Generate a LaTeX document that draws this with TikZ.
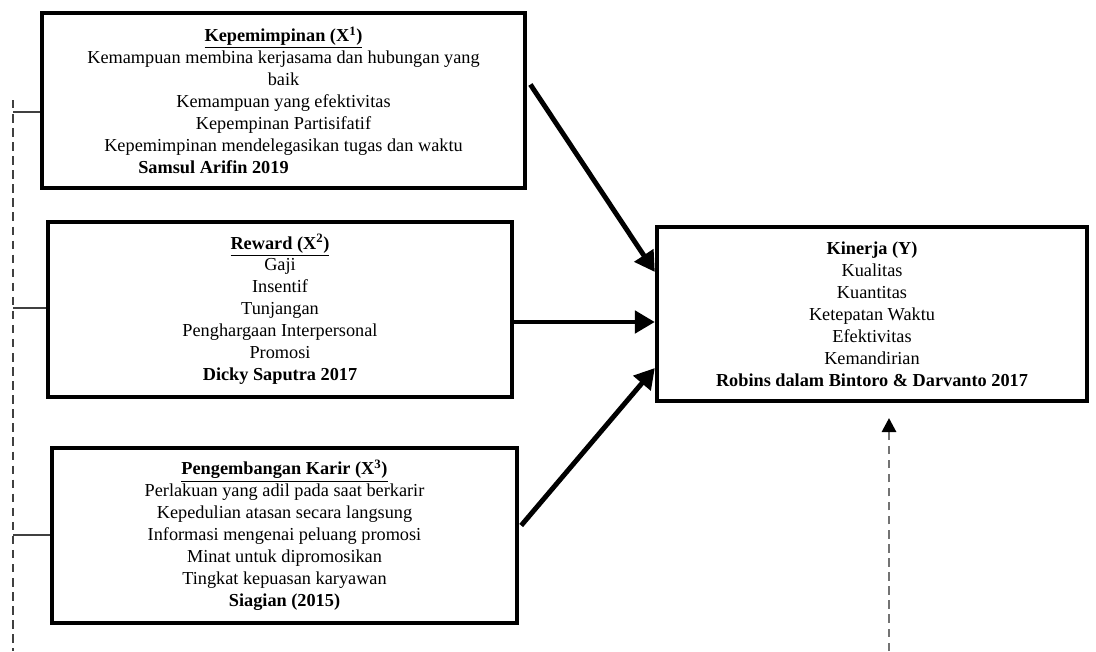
\documentclass[tikz,border=0pt]{standalone}
\usepackage{fontspec}
\setmainfont{Liberation Serif}
\usetikzlibrary{arrows.meta}

\begin{document}
\begin{tikzpicture}[x=0.025cm, y=-0.025cm,
	every node/.style={font=\fontsize{13}{15.6}\selectfont},
	varbox/.style={draw, line width=3pt, align=center, inner sep=0pt},
	>={Triangle[length=5mm, width=5.5mm]}]
	\useasboundingbox (0,0) rectangle (1096,651);
	\node[varbox, minimum width=12.075cm, minimum height=4.375cm] (kp) at (283.5,100.5) {\underline{\textbf{Kepemimpinan (X\textsuperscript{1})}}\\ Kemampuan membina kerjasama dan hubungan yang\\ baik\\ Kemampuan yang efektivitas\\ Kepempinan Partisifatif\\ Kepemimpinan mendelegasikan tugas dan waktu\\ \textbf{Samsul Arifin 2019}\hspace*{3.5cm}};
	\node[varbox, minimum width=11.6cm, minimum height=4.375cm] (rw) at (280,309.5) {\underline{\textbf{Reward (X\textsuperscript{2})}}\\ Gaji\\ Insentif\\ Tunjangan\\ Penghargaan Interpersonal\\ Promosi\\ \textbf{Dicky Saputra 2017}};
	\node[varbox, minimum width=11.625cm, minimum height=4.375cm] (pk) at (284.5,535.5) {\underline{\textbf{Pengembangan Karir (X\textsuperscript{3})}}\\ Perlakuan yang adil pada saat berkarir\\ Kepedulian atasan secara langsung\\ Informasi mengenai peluang promosi\\ Minat untuk dipromosikan\\ Tingkat kepuasan karyawan\\ \textbf{Siagian (2015)}};
	\node[varbox, minimum width=10.75cm, minimum height=4.35cm] (kin) at (872,314) {\textbf{Kinerja (Y)}\\ Kualitas\\ Kuantitas\\ Ketepatan Waktu\\ Efektivitas\\ Kemandirian\\ \textbf{Robins dalam Bintoro \& Darvanto 2017}};
	% arrows to Y
	\coordinate (a2) at ([yshift=-0.2cm]kin.west);
	\draw[->, line width=3.5pt] ([xshift=0.08cm, yshift=0.4cm]kp.east) -- ([yshift=1.05cm]kin.west);
	\draw[->, line width=3.5pt] (rw.east |- a2) -- (a2);
	\draw[->, line width=3.5pt] ([xshift=0.05cm, yshift=0.25cm]pk.east) -- ([yshift=-1.35cm]kin.west);
	% left bracket
	\coordinate (lt) at (13,100);
	\coordinate (lb) at (13,651);
	\draw[dashed, dash pattern=on 6pt off 4pt, line width=0.8pt, black!75] (lt) -- (lb);
	\draw[line width=0.8pt, black!75] (lt |- 0,112) -- (kp.west |- 0,112);
	\draw[line width=0.8pt, black!75] (lt |- 0,308) -- (rw.west |- 0,308);
	\draw[line width=0.8pt, black!75] (lt |- 0,535) -- (pk.west |- 0,535);
	% outside influence
	\coordinate (ob) at (889,651);
	\coordinate (ot) at (889,418);
	\draw[-{Triangle[length=3.5mm, width=3.5mm, color=black]}, dashed, dash pattern=on 6pt off 4pt, line width=2pt, black!55] (ob) -- (ot);
\end{tikzpicture}
\end{document}
